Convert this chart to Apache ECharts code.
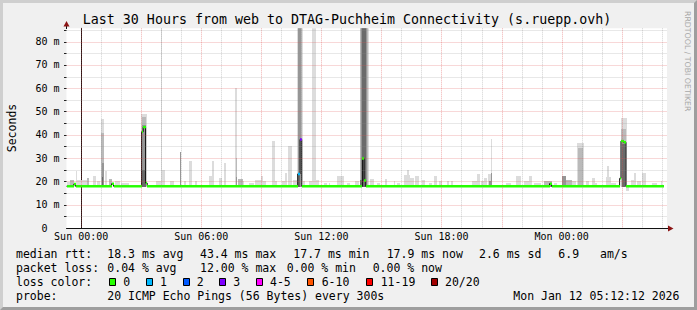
<!DOCTYPE html>
<html><head><meta charset="utf-8">
<script src="https://cdn.jsdelivr.net/npm/echarts@6/dist/echarts.min.js"></script>
<style>
html,body{margin:0;padding:0;background:#f0f0f0;}
#wrap{position:relative;width:697px;height:310px;overflow:hidden;}
#chart{position:absolute;left:0;top:0;width:697px;height:310px;}
#frame{position:absolute;left:0;top:0;width:691px;height:304px;border:3px solid;border-color:#cfcfcf #9e9e9e #9e9e9e #cfcfcf;pointer-events:none;}
</style></head><body>
<div id="wrap"><div id="chart"></div><div id="frame"></div></div>
<script>
// ---- axis labels (minutes relative to Sun 00:00) ----
const xLabelValues = [0, 360, 720, 1080, 1440];
const xLabelTexts = ['Sun 00:00', 'Sun 06:00', 'Sun 12:00', 'Sun 18:00', 'Mon 00:00'];
const yMajorGrid = [10, 20, 30, 40, 50, 60, 70, 80];
const yMinorGrid = [5, 15, 25, 35, 45, 55, 65, 75, 85];
const xMajorGrid = [0, 180, 360, 540, 720, 900, 1080, 1260, 1440, 1620];
const xMinorGrid = [60, 120, 240, 300, 420, 480, 600, 660, 780, 840, 960, 1020, 1140, 1200, 1320, 1380, 1500, 1560, 1680, 1740];

// ---- median rtt (ms), step values starting at medianT[i] ----
const medianT = [-44, -22, -17, 91, 97, 181, 186, 193, 198, 649, 656, 661, 843, 848, 853, 1404, 1410, 1614, 1618, 1626, 1633];
const medianV = [17.9, 18.9, 17.9, 19.0, 17.9, 41.3, 43.3, 19.3, 17.9, 23.2, 38.0, 17.9, 29.8, 20.4, 17.9, 19.0, 17.9, 21.3, 37.3, 36.8, 17.9];
const medianLoss = [0, 0, 0, 0, 0, 0, 0, 0, 0, 1, 3, 0, 0, 0, 0, 0, 0, 0, 0, 0, 0];
const medianEnd = 1747;

// ---- smoke layers: [start, end, low, high] ----
const smokeLight = [
 [-43,-28,17.5,19.6],[-16,-13,17.5,24.3],[-12,2,17.5,20.7],[2,17,17.5,20.7],[36,44,17.5,22.2],[47,57,17.5,20],
 [59,69,17.5,46.6],[70,77,17.5,24.3],[102,117,17.5,20],[120,142,17.5,19.3],[180,196,17.5,48.8],[225,238,17.5,20],
 [238,241,17.5,90],
 [242,250,17.5,25],[267,277,17.5,20],[307,314,17.5,20],[322,332,17.5,28.6],[340,347,17.5,20],[382,392,17.5,22.2],
 [392,398,17.5,28.8],[412,422,17.5,21.5],[427,433,17.5,28],[461,468,17.5,60],[477,487,17.5,20],[502,517,17.5,19.5],[522,542,17.5,20.5],
 [539,545,17.5,22.2],[545,554,17.5,20],[572,582,17.5,37.3],[582,587,17.5,20],[602,617,17.5,20],[612,616,17.5,23.6],
 [621,631,17.5,35.1],[636,646,17.5,20.5],[648,664,17.5,90],[664,671,17.5,20],[682,691,17.5,20],[691,704,17.5,90],
 [704,712,17.5,20.5],[727,737,17.5,19.5],[742,747,17.5,19.5],[767,787,17.5,22.2],[797,807,17.5,19.5],[822,832,17.5,20],
 [836,862,17.5,90],[867,877,17.5,21],[887,897,17.5,19.5],[912,917,17.5,21],[937,942,17.5,20],[947,957,17.5,19.5],
 [967,987,17.5,22.8],[976,983,17.5,25],[987,997,17.5,21.5],[1002,1012,17.5,22.2],[1022,1032,17.5,20.7],[1042,1052,17.5,19.5],
 [1057,1067,17.5,22.2],[1072,1082,17.5,20],[1097,1102,17.5,20],[1110,1115,17.5,20],[1172,1187,17.5,20],[1187,1194,17.5,23.3],
 [1197,1207,17.5,20],[1207,1217,17.5,21.4],[1220,1227,17.5,23.3],[1227,1230,17.5,38],[1272,1287,17.5,19.3],[1302,1317,17.5,22.4],
 [1327,1342,17.5,20],[1342,1350,17.5,22.2],[1357,1377,17.5,19.3],[1417,1427,17.5,19.3],[1472,1482,17.5,20],[1487,1507,17.5,36.6],
 [1512,1522,17.5,20],[1530,1540,17.5,21.4],[1540,1547,17.5,19.3],[1572,1587,17.5,22],[1576,1582,17.5,26.5],[1587,1602,17.5,19.3],
 [1617,1635,17.5,47.4],[1632,1642,15.7,18],[1647,1657,17.5,20.7],[1657,1664,17.5,23.6],[1667,1677,17.5,20],[1682,1692,17.5,23.6],
 [1712,1727,17.5,19.3],[1737,1742,17.5,20]
];
const smokeMid = [
 [-33,-23,17.5,20.7],[17,22,17.5,21.4],[60,68,17.5,40.9],[82,92,17.5,21],[181,195,17.5,47.5],
 [463,467,17.5,30],[470,485,17.5,21.2],[650,662,17.5,90],[837,861,17.5,90],[1387,1412,17.5,20],[1452,1472,17.5,20.7],
 [1489,1505,17.5,34.5],[1619,1633,17.5,42.4]
];
const smokeDark = [
 [61,67,17.5,28],[182,194,17.5,44],[297,300,17.5,32.5],[464,467,17.5,22],[651,660,17.5,90],[840,858,17.5,90],
 [1222,1228,17.5,20],[1227,1230,17.5,23.6],[1402,1412,17.5,19.5],[1442,1452,17.5,22.4],[1620,1632,17.5,37]
];
const smokeDarker = [
 [62,66,17.5,22],[183,193,17.5,25],[650,656,17.5,23],[842,854,17.5,90],[836,846,17.5,20.7],[1620,1631,17.5,36]
];

const shadeColors = ['#dcdcdc', '#bababa', '#969696', '#6a6a6a'];
const lossColors = ['#26ff00', '#00b8ff', '#0059ff', '#7e00ff', '#ff00ff', '#ff5500', '#ff0000', '#a10000'];
const lossLabels = ['0', '1', '2', '3', '4-5', '6-10', '11-19', '20/20'];
const MONO = '"DejaVu Sans Mono"';

const smokeData = [];
[smokeLight, smokeMid, smokeDark, smokeDarker].forEach((layer, s) => layer.forEach(r => smokeData.push([r[0], r[1], r[2], r[3], s])));

const medianLine = medianT.map((t, i) => [t, medianV[i]]).concat([[medianEnd, medianV[medianV.length - 1]]]);
const lossSegs = medianT.map((t, i) => [t, i + 1 < medianT.length ? medianT[i + 1] : medianEnd, medianV[i], medianLoss[i]]);

const gridData = [];
xMinorGrid.forEach(v => gridData.push([0, v, 0]));
xMajorGrid.forEach(v => gridData.push([0, v, 1]));
yMinorGrid.forEach(v => gridData.push([1, v, 0]));
yMajorGrid.forEach(v => gridData.push([1, v, 1]));

const chart = echarts.init(document.getElementById('chart'), null, {renderer: 'svg'});

function clip(rect, cs) {
  return echarts.graphic.clipRectByRect(rect, {x: cs.x, y: cs.y, width: cs.width, height: cs.height});
}

const graphics = [];
function txt(x, y, s, extra) {
  graphics.push(Object.assign({type: 'text', x: x, y: y, style: {text: s, font: '11.5px ' + MONO, fill: '#000', align: 'left', verticalAlign: 'middle'}}, extra || {}));
}
graphics.push({type: 'text', x: 347, y: 19.3, style: {text: 'Last 30 Hours from web to DTAG-Puchheim Connectivity (s.ruepp.ovh)', font: '13.3px ' + MONO, fill: '#000', align: 'center', verticalAlign: 'middle'}});
graphics.push({type: 'text', x: 11.5, y: 128, rotation: Math.PI / 2, style: {text: 'Seconds', font: '11.5px ' + MONO, fill: '#000', align: 'center', verticalAlign: 'middle'}});
graphics.push({type: 'text', x: 687, y: 11, rotation: -Math.PI / 2, style: {text: 'RRDTOOL / TOBI OETIKER', font: '7.8px "DejaVu Sans"', fill: '#a8a8a8', align: 'left', verticalAlign: 'middle'}});
// arrows
graphics.push({type: 'line', shape: {x1: 66.5, y1: 26, x2: 66.5, y2: 29}, style: {stroke: '#111', lineWidth: 1}});
graphics.push({type: 'polygon', shape: {points: [[63.5, 26.5], [69.5, 26.5], [66.5, 21]]}, style: {fill: '#8b1414'}});
graphics.push({type: 'line', shape: {x1: 667, y1: 228.5, x2: 669, y2: 228.5}, style: {stroke: '#111', lineWidth: 1}});
graphics.push({type: 'polygon', shape: {points: [[668, 225.5], [668, 231.5], [673.5, 228.5]]}, style: {fill: '#8b1414'}});

// legend
const L1 = 254.3, L2 = 268.3, L3 = 282.3, L4 = 296;
txt(16, L1, 'median rtt:'); txt(107.3, L1, '18.3 ms avg'); txt(200, L1, '43.4 ms max'); txt(293.3, L1, '17.7 ms min');
txt(386.7, L1, '17.9 ms now'); txt(479, L1, '2.6 ms sd'); txt(558.3, L1, '6.9'); txt(600, L1, 'am/s');
txt(16, L2, 'packet loss:'); txt(107.3, L2, '0.04 % avg'); txt(200, L2, '12.00 % max'); txt(286.7, L2, '0.00 % min'); txt(372.7, L2, '0.00 % now');
txt(16, L3, 'loss color:');
const boxX = [109, 146, 182.7, 219.3, 256, 307.3, 365.7, 430.7];
const labX = [123.3, 160, 196.7, 233.3, 270, 321.7, 380.7, 445];
lossColors.forEach((c, i) => {
  graphics.push({type: 'rect', shape: {x: Math.round(boxX[i]) + 0.5, y: 278.5, width: 6, height: 7}, style: {fill: c, stroke: '#000', lineWidth: 1}});
  txt(labX[i], L3, lossLabels[i]);
});
txt(16, L4, 'probe:'); txt(107.3, L4, '20 ICMP Echo Pings (56 Bytes) every 300s'); txt(513.3, L4, 'Mon Jan 12 05:12:12 2026');

const option = {
  animation: false,
  backgroundColor: '#f0f0f0',
  grid: {left: 66.5, right: 30, top: 28.3, bottom: 82, show: true, backgroundColor: '#ffffff', borderWidth: 0, containLabel: false, outerBoundsMode: 'none'},
  xAxis: {
    type: 'value', min: -44, max: 1756,
    axisLine: {show: true, lineStyle: {color: '#111', width: 1}},
    axisTick: {show: false},
    splitLine: {show: false},
    axisLabel: {
      customValues: xLabelValues, margin: 3, color: '#000', fontFamily: MONO, fontSize: 10,
      formatter: function (v) { const i = xLabelValues.indexOf(v); return i >= 0 ? xLabelTexts[i] : ''; }
    }
  },
  yAxis: {
    type: 'value', min: 0, max: 85.7, interval: 10,
    axisLine: {show: true, lineStyle: {color: '#111', width: 1}},
    axisTick: {show: false},
    splitLine: {show: false},
    axisLabel: {
      margin: 7, color: '#000', fontFamily: MONO, fontSize: 10,
      formatter: function (v) { if (v % 10 !== 0) return ''; return v === 0 ? '0\u00a0\u00a0' : v + ' m'; }
    }
  },
  graphic: graphics,
  series: [
    {
      type: 'custom', name: 'smoke', z: 2, encode: {x: [0, 1], y: [2, 3]},
      renderItem: function (params, api) {
        const p0 = api.coord([api.value(0), api.value(3)]);
        const p1 = api.coord([api.value(1), api.value(2)]);
        const x0 = Math.round(p0[0]); let x1 = Math.round(p1[0]); if (x1 <= x0) x1 = x0 + 1;
        const y0 = Math.round(p0[1]), y1 = Math.round(p1[1]);
        const r = clip({x: x0, y: y0, width: x1 - x0, height: y1 - y0}, params.coordSys);
        return r && {type: 'rect', shape: r, style: {fill: shadeColors[api.value(4)]}};
      },
      data: smokeData
    },
    {
      type: 'line', name: 'median', z: 3, step: 'end', showSymbol: false, symbol: 'none',
      lineStyle: {color: '#111', width: 1}, data: medianLine
    },
    {
      type: 'custom', name: 'loss', z: 4, encode: {x: [0, 1], y: 2},
      renderItem: function (params, api) {
        const p0 = api.coord([api.value(0), api.value(2)]);
        const p1 = api.coord([api.value(1), api.value(2)]);
        const x0 = Math.round(p0[0]); let x1 = Math.round(p1[0]); if (x1 <= x0) x1 = x0 + 1;
        return {type: 'rect', shape: {x: x0, y: p0[1] - 1.2, width: x1 - x0, height: 2.4}, style: {fill: lossColors[api.value(3)]}};
      },
      data: lossSegs
    },
    {
      type: 'custom', name: 'grid', z: 5, silent: true,
      renderItem: function (params, api) {
        const cs = params.coordSys;
        const kind = api.value(0), v = api.value(1), major = api.value(2);
        const stroke = major ? 'rgba(222,80,80,0.45)' : 'rgba(140,140,140,0.4)';
        if (kind === 0) {
          const x = Math.round(api.coord([v, 0])[0]) + 0.5;
          return {type: 'line', shape: {x1: x, y1: cs.y, x2: x, y2: cs.y + cs.height}, style: {stroke: stroke, lineWidth: 1, lineDash: [1, 1]}};
        }
        const y = Math.round(api.coord([0, v])[1]) + 0.5;
        return {type: 'group', children: [
          {type: 'line', shape: {x1: cs.x, y1: y, x2: cs.x + cs.width, y2: y}, style: {stroke: stroke, lineWidth: 1, lineDash: [1, 1]}},
          {type: 'line', shape: {x1: cs.x - 2.5, y1: y, x2: cs.x, y2: y}, style: {stroke: '#222', lineWidth: 1}}
        ]};
      },
      data: gridData
    }
  ]
};
chart.setOption(option);
</script></body></html>
